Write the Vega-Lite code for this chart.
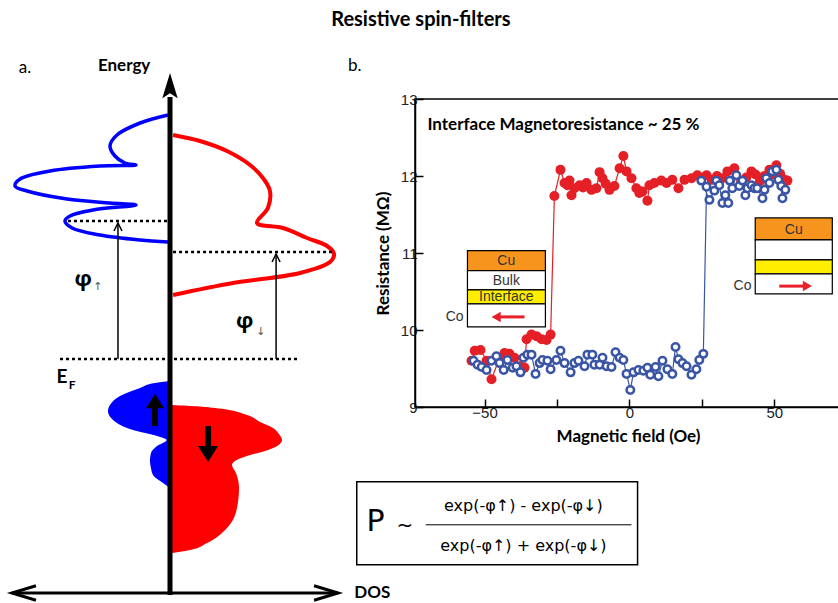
{
  "$schema": "https://vega.github.io/schema/vega-lite/v6.json",
  "padding": {"left": 0, "top": 10, "right": 0, "bottom": 0},
  "background": "white",
  "title": {"text": "Resistive spin-filters", "font": "Lato", "fontSize": 20, "fontWeight": "bold", "color": "black", "anchor": "middle", "offset": 26},
  "bounds": "flush",
  "spacing": 75,
  "config": {"view": {"stroke": null}},
  "datasets": {
    "blueCurve": [
      {"i": 0, "x": -0.012, "E": 2.44}, {"i": 1, "x": -0.176, "E": 2.36}, {"i": 2, "x": -0.312, "E": 2.24},
      {"i": 3, "x": -0.353, "E": 2.13}, {"i": 4, "x": -0.324, "E": 2.03}, {"i": 5, "x": -0.265, "E": 1.96},
      {"i": 6, "x": -0.2, "E": 1.94}, {"i": 7, "x": -0.412, "E": 1.93}, {"i": 8, "x": -0.706, "E": 1.88},
      {"i": 9, "x": -0.882, "E": 1.8}, {"i": 10, "x": -0.912, "E": 1.73}, {"i": 11, "x": -0.841, "E": 1.68},
      {"i": 12, "x": -0.606, "E": 1.6}, {"i": 13, "x": -0.353, "E": 1.56}, {"i": 14, "x": -0.2, "E": 1.54},
      {"i": 15, "x": -0.453, "E": 1.49}, {"i": 16, "x": -0.588, "E": 1.43}, {"i": 17, "x": -0.618, "E": 1.38},
      {"i": 18, "x": -0.576, "E": 1.31}, {"i": 19, "x": -0.412, "E": 1.24}, {"i": 20, "x": -0.176, "E": 1.19},
      {"i": 21, "x": -0.012, "E": 1.17}
    ],
    "redCurve": [
      {"i": 0, "x": 0.018, "E": 2.24}, {"i": 1, "x": 0.176, "E": 2.18}, {"i": 2, "x": 0.335, "E": 2.08},
      {"i": 3, "x": 0.471, "E": 1.94}, {"i": 4, "x": 0.547, "E": 1.81}, {"i": 5, "x": 0.588, "E": 1.68},
      {"i": 6, "x": 0.576, "E": 1.51}, {"i": 7, "x": 0.512, "E": 1.36}, {"i": 8, "x": 0.665, "E": 1.31},
      {"i": 9, "x": 0.806, "E": 1.21}, {"i": 10, "x": 0.924, "E": 1.13}, {"i": 11, "x": 0.965, "E": 1.05},
      {"i": 12, "x": 0.941, "E": 0.97}, {"i": 13, "x": 0.765, "E": 0.86}, {"i": 14, "x": 0.371, "E": 0.76},
      {"i": 15, "x": 0.018, "E": 0.64}
    ],
    "blueFill": [
      {"E": -0.22, "x": 0}, {"E": -0.24, "x": -0.088}, {"E": -0.29, "x": -0.176}, {"E": -0.37, "x": -0.294},
      {"E": -0.46, "x": -0.353}, {"E": -0.52, "x": -0.365}, {"E": -0.61, "x": -0.335}, {"E": -0.71, "x": -0.218},
      {"E": -0.77, "x": -0.076}, {"E": -0.81, "x": -0.02}, {"E": -0.87, "x": -0.076}, {"E": -0.94, "x": -0.112},
      {"E": -1.02, "x": -0.118}, {"E": -1.09, "x": -0.112}, {"E": -1.16, "x": -0.1}, {"E": -1.24, "x": -0.041},
      {"E": -1.29, "x": 0}
    ],
    "redFill": [
      {"E": -0.46, "x": 0.012}, {"E": -0.475, "x": 0.176}, {"E": -0.49, "x": 0.265}, {"E": -0.56, "x": 0.453},
      {"E": -0.63, "x": 0.53}, {"E": -0.69, "x": 0.606}, {"E": -0.75, "x": 0.641}, {"E": -0.81, "x": 0.659},
      {"E": -0.87, "x": 0.63}, {"E": -0.92, "x": 0.56}, {"E": -0.97, "x": 0.453}, {"E": -1.02, "x": 0.382},
      {"E": -1.06, "x": 0.365}, {"E": -1.14, "x": 0.388}, {"E": -1.29, "x": 0.406}, {"E": -1.49, "x": 0.394},
      {"E": -1.69, "x": 0.335}, {"E": -1.84, "x": 0.218}, {"E": -1.91, "x": 0.12}, {"E": -1.94, "x": 0.012}
    ],
    "axisLines": [
      {"dir": "v", "x": 0, "x2": 0, "E": -2.36, "E2": 2.62},
      {"dir": "h", "x": -0.929, "x2": 0.988, "E": -2.34, "E2": -2.34}
    ],
    "levels": [
      {"x": -0.6, "x2": -0.012, "E": 1.38, "E2": 1.38},
      {"x": 0.018, "x2": 0.959, "E": 1.07, "E2": 1.07},
      {"x": -0.647, "x2": 0.765, "E": 0, "E2": 0}
    ],
    "barriers": [
      {"x": -0.306, "x2": -0.306, "E": 0, "E2": 1.35},
      {"x": 0.624, "x2": 0.624, "E": 0, "E2": 1.05}
    ],
    "spinShafts": [
      {"x": -0.088, "x2": -0.088, "E": -0.67, "E2": -0.48},
      {"x": 0.224, "x2": 0.224, "E": -0.67, "E2": -0.87}
    ],
    "heads": [
      {"kind": "axisTop", "x": 0, "E": 2.72},
      {"kind": "axisLeft", "x": -0.859, "E": -2.34},
      {"kind": "axisRight", "x": 0.918, "E": -2.34},
      {"kind": "barrier", "x": -0.306, "E": 1.32},
      {"kind": "barrier", "x": 0.624, "E": 1.01},
      {"kind": "spinUp", "x": -0.088, "E": -0.42},
      {"kind": "spinDown", "x": 0.224, "E": -0.95}
    ],
    "leftLabels": [
      {"kind": "head", "x": -0.27, "E": 2.93, "text": "Energy"},
      {"kind": "head", "x": 1.19, "E": -2.34, "text": "DOS"},
      {"kind": "panel", "x": -0.853, "E": 2.91, "text": "a."},
      {"kind": "sym", "x": -0.635, "E": -0.18, "text": "E"},
      {"kind": "phi", "x": -0.51, "E": 0.8, "text": "φ"},
      {"kind": "phi", "x": 0.44, "E": 0.38, "text": "φ"},
      {"kind": "subF", "x": -0.575, "E": -0.26, "text": "F"},
      {"kind": "sub", "x": -0.425, "E": 0.72, "text": "↑"},
      {"kind": "sub", "x": 0.535, "E": 0.27, "text": "↓"}
    ],
    "scatter": [
      {"sweep": "down", "i": 0, "x": 54.5, "y": 11.94}, {"sweep": "down", "i": 1, "x": 53.4, "y": 11.95},
      {"sweep": "down", "i": 2, "x": 52.0, "y": 12.03}, {"sweep": "down", "i": 3, "x": 50.7, "y": 12.14},
      {"sweep": "down", "i": 4, "x": 49.4, "y": 12.02}, {"sweep": "down", "i": 5, "x": 48.3, "y": 12.08},
      {"sweep": "down", "i": 6, "x": 46.5, "y": 12.0}, {"sweep": "down", "i": 7, "x": 45.0, "y": 11.93},
      {"sweep": "down", "i": 8, "x": 43.5, "y": 12.02}, {"sweep": "down", "i": 9, "x": 42.1, "y": 12.06},
      {"sweep": "down", "i": 10, "x": 40.3, "y": 11.98}, {"sweep": "down", "i": 11, "x": 38.5, "y": 11.92},
      {"sweep": "down", "i": 12, "x": 36.2, "y": 12.1}, {"sweep": "down", "i": 13, "x": 33.8, "y": 12.06},
      {"sweep": "down", "i": 14, "x": 32.0, "y": 11.97}, {"sweep": "down", "i": 15, "x": 30.2, "y": 12.0},
      {"sweep": "down", "i": 16, "x": 28.4, "y": 11.95}, {"sweep": "down", "i": 17, "x": 26.6, "y": 12.01},
      {"sweep": "down", "i": 18, "x": 25.0, "y": 11.98}, {"sweep": "down", "i": 19, "x": 23.4, "y": 12.01},
      {"sweep": "down", "i": 20, "x": 21.4, "y": 11.97}, {"sweep": "down", "i": 21, "x": 19.0, "y": 11.95},
      {"sweep": "down", "i": 22, "x": 16.9, "y": 11.84}, {"sweep": "down", "i": 23, "x": 14.8, "y": 11.95},
      {"sweep": "down", "i": 24, "x": 12.8, "y": 11.91}, {"sweep": "down", "i": 25, "x": 11.0, "y": 11.94},
      {"sweep": "down", "i": 26, "x": 8.6, "y": 11.91}, {"sweep": "down", "i": 27, "x": 6.9, "y": 11.88},
      {"sweep": "down", "i": 28, "x": 6.2, "y": 11.68}, {"sweep": "down", "i": 29, "x": 4.5, "y": 11.8},
      {"sweep": "down", "i": 30, "x": 3.4, "y": 11.78}, {"sweep": "down", "i": 31, "x": 2.4, "y": 11.84},
      {"sweep": "down", "i": 32, "x": 0.7, "y": 11.97}, {"sweep": "down", "i": 33, "x": -1.0, "y": 12.06},
      {"sweep": "down", "i": 34, "x": -2.1, "y": 12.26}, {"sweep": "down", "i": 35, "x": -3.4, "y": 12.1},
      {"sweep": "down", "i": 36, "x": -5.2, "y": 11.87}, {"sweep": "down", "i": 37, "x": -6.9, "y": 11.82},
      {"sweep": "down", "i": 38, "x": -8.2, "y": 11.9}, {"sweep": "down", "i": 39, "x": -9.3, "y": 11.97},
      {"sweep": "down", "i": 40, "x": -10.3, "y": 12.05}, {"sweep": "down", "i": 41, "x": -11.4, "y": 11.84},
      {"sweep": "down", "i": 42, "x": -13.1, "y": 11.82}, {"sweep": "down", "i": 43, "x": -14.8, "y": 11.91},
      {"sweep": "down", "i": 44, "x": -16.0, "y": 11.85}, {"sweep": "down", "i": 45, "x": -17.2, "y": 11.88},
      {"sweep": "down", "i": 46, "x": -19.0, "y": 11.84}, {"sweep": "down", "i": 47, "x": -20.0, "y": 11.75},
      {"sweep": "down", "i": 48, "x": -20.7, "y": 11.94}, {"sweep": "down", "i": 49, "x": -21.4, "y": 11.88},
      {"sweep": "down", "i": 50, "x": -22.4, "y": 11.91}, {"sweep": "down", "i": 51, "x": -23.8, "y": 12.08},
      {"sweep": "down", "i": 52, "x": -25.9, "y": 11.74}, {"sweep": "down", "i": 53, "x": -27.2, "y": 9.94},
      {"sweep": "down", "i": 54, "x": -28.6, "y": 9.87}, {"sweep": "down", "i": 55, "x": -30.3, "y": 9.88},
      {"sweep": "down", "i": 56, "x": -32.1, "y": 9.92}, {"sweep": "down", "i": 57, "x": -33.8, "y": 9.94},
      {"sweep": "down", "i": 58, "x": -35.5, "y": 9.88}, {"sweep": "down", "i": 59, "x": -36.2, "y": 9.51},
      {"sweep": "down", "i": 60, "x": -37.9, "y": 9.53}, {"sweep": "down", "i": 61, "x": -39.7, "y": 9.64},
      {"sweep": "down", "i": 62, "x": -41.4, "y": 9.69}, {"sweep": "down", "i": 63, "x": -43.1, "y": 9.7},
      {"sweep": "down", "i": 64, "x": -45.0, "y": 9.62}, {"sweep": "down", "i": 65, "x": -47.6, "y": 9.36},
      {"sweep": "down", "i": 66, "x": -49.3, "y": 9.6}, {"sweep": "down", "i": 67, "x": -51.4, "y": 9.74},
      {"sweep": "down", "i": 68, "x": -53.4, "y": 9.73}, {"sweep": "down", "i": 69, "x": -54.5, "y": 9.6},
      {"sweep": "up", "i": 0, "x": -53.8, "y": 9.6}, {"sweep": "up", "i": 1, "x": -52.4, "y": 9.55},
      {"sweep": "up", "i": 2, "x": -51.0, "y": 9.52}, {"sweep": "up", "i": 3, "x": -49.3, "y": 9.48},
      {"sweep": "up", "i": 4, "x": -47.6, "y": 9.6}, {"sweep": "up", "i": 5, "x": -45.9, "y": 9.66},
      {"sweep": "up", "i": 6, "x": -44.8, "y": 9.57}, {"sweep": "up", "i": 7, "x": -43.4, "y": 9.48},
      {"sweep": "up", "i": 8, "x": -42.1, "y": 9.61}, {"sweep": "up", "i": 9, "x": -40.3, "y": 9.51},
      {"sweep": "up", "i": 10, "x": -39.0, "y": 9.53}, {"sweep": "up", "i": 11, "x": -37.6, "y": 9.45},
      {"sweep": "up", "i": 12, "x": -36.6, "y": 9.64}, {"sweep": "up", "i": 13, "x": -35.2, "y": 9.68},
      {"sweep": "up", "i": 14, "x": -33.8, "y": 9.68}, {"sweep": "up", "i": 15, "x": -32.4, "y": 9.43},
      {"sweep": "up", "i": 16, "x": -31.0, "y": 9.57}, {"sweep": "up", "i": 17, "x": -30.0, "y": 9.61},
      {"sweep": "up", "i": 18, "x": -28.3, "y": 9.6}, {"sweep": "up", "i": 19, "x": -27.2, "y": 9.49},
      {"sweep": "up", "i": 20, "x": -25.2, "y": 9.61}, {"sweep": "up", "i": 21, "x": -23.8, "y": 9.73},
      {"sweep": "up", "i": 22, "x": -22.4, "y": 9.57}, {"sweep": "up", "i": 23, "x": -20.3, "y": 9.45},
      {"sweep": "up", "i": 24, "x": -19.0, "y": 9.57}, {"sweep": "up", "i": 25, "x": -17.6, "y": 9.6},
      {"sweep": "up", "i": 26, "x": -15.5, "y": 9.53}, {"sweep": "up", "i": 27, "x": -14.5, "y": 9.68},
      {"sweep": "up", "i": 28, "x": -12.8, "y": 9.68}, {"sweep": "up", "i": 29, "x": -12.1, "y": 9.55},
      {"sweep": "up", "i": 30, "x": -10.3, "y": 9.55}, {"sweep": "up", "i": 31, "x": -9.3, "y": 9.64},
      {"sweep": "up", "i": 32, "x": -7.9, "y": 9.53}, {"sweep": "up", "i": 33, "x": -6.2, "y": 9.52},
      {"sweep": "up", "i": 34, "x": -4.8, "y": 9.71}, {"sweep": "up", "i": 35, "x": -3.4, "y": 9.64},
      {"sweep": "up", "i": 36, "x": -2.1, "y": 9.61}, {"sweep": "up", "i": 37, "x": -1.0, "y": 9.43},
      {"sweep": "up", "i": 38, "x": 0.3, "y": 9.22}, {"sweep": "up", "i": 39, "x": 1.4, "y": 9.45},
      {"sweep": "up", "i": 40, "x": 3.1, "y": 9.48}, {"sweep": "up", "i": 41, "x": 4.8, "y": 9.47},
      {"sweep": "up", "i": 42, "x": 6.2, "y": 9.51}, {"sweep": "up", "i": 43, "x": 7.2, "y": 9.42},
      {"sweep": "up", "i": 44, "x": 9.0, "y": 9.52}, {"sweep": "up", "i": 45, "x": 10.0, "y": 9.4},
      {"sweep": "up", "i": 46, "x": 11.4, "y": 9.6}, {"sweep": "up", "i": 47, "x": 13.1, "y": 9.49},
      {"sweep": "up", "i": 48, "x": 14.8, "y": 9.43}, {"sweep": "up", "i": 49, "x": 15.9, "y": 9.78},
      {"sweep": "up", "i": 50, "x": 16.9, "y": 9.62}, {"sweep": "up", "i": 51, "x": 18.3, "y": 9.57},
      {"sweep": "up", "i": 52, "x": 19.7, "y": 9.53}, {"sweep": "up", "i": 53, "x": 21.4, "y": 9.42},
      {"sweep": "up", "i": 54, "x": 23.1, "y": 9.49}, {"sweep": "up", "i": 55, "x": 24.1, "y": 9.61},
      {"sweep": "up", "i": 56, "x": 25.5, "y": 9.69}, {"sweep": "up", "i": 57, "x": 26.6, "y": 11.86},
      {"sweep": "up", "i": 58, "x": 24.8, "y": 11.94}, {"sweep": "up", "i": 59, "x": 27.6, "y": 11.69},
      {"sweep": "up", "i": 60, "x": 29.3, "y": 11.81}, {"sweep": "up", "i": 61, "x": 30.0, "y": 11.94},
      {"sweep": "up", "i": 62, "x": 31.0, "y": 11.88}, {"sweep": "up", "i": 63, "x": 32.1, "y": 11.65},
      {"sweep": "up", "i": 64, "x": 33.1, "y": 11.75}, {"sweep": "up", "i": 65, "x": 34.1, "y": 11.65},
      {"sweep": "up", "i": 66, "x": 34.6, "y": 11.94}, {"sweep": "up", "i": 67, "x": 35.5, "y": 11.84},
      {"sweep": "up", "i": 68, "x": 36.9, "y": 12.01}, {"sweep": "up", "i": 69, "x": 37.9, "y": 11.87},
      {"sweep": "up", "i": 70, "x": 39.0, "y": 11.94}, {"sweep": "up", "i": 71, "x": 40.0, "y": 11.75},
      {"sweep": "up", "i": 72, "x": 40.7, "y": 11.84}, {"sweep": "up", "i": 73, "x": 42.1, "y": 11.88},
      {"sweep": "up", "i": 74, "x": 43.1, "y": 11.84}, {"sweep": "up", "i": 75, "x": 44.1, "y": 11.84},
      {"sweep": "up", "i": 76, "x": 45.9, "y": 11.71}, {"sweep": "up", "i": 77, "x": 46.6, "y": 11.82},
      {"sweep": "up", "i": 78, "x": 47.2, "y": 11.97}, {"sweep": "up", "i": 79, "x": 48.3, "y": 11.91},
      {"sweep": "up", "i": 80, "x": 49.3, "y": 12.06}, {"sweep": "up", "i": 81, "x": 50.7, "y": 12.08},
      {"sweep": "up", "i": 82, "x": 51.4, "y": 11.95}, {"sweep": "up", "i": 83, "x": 52.4, "y": 11.87},
      {"sweep": "up", "i": 84, "x": 52.8, "y": 11.71}, {"sweep": "up", "i": 85, "x": 53.8, "y": 11.82}
    ],
    "insets": [
      {"layer": "Cu", "x": -55.9, "x2": -29.0, "y": 11.03, "y2": 10.77},
      {"layer": "Bulk", "x": -55.9, "x2": -29.0, "y": 10.77, "y2": 10.52},
      {"layer": "Interface", "x": -55.9, "x2": -29.0, "y": 10.52, "y2": 10.34},
      {"layer": "Co", "x": -55.9, "x2": -29.0, "y": 10.34, "y2": 10.04},
      {"layer": "Cu", "x": 43.4, "x2": 70.0, "y": 11.455, "y2": 11.17},
      {"layer": "Bulk", "x": 43.4, "x2": 70.0, "y": 11.17, "y2": 10.91},
      {"layer": "Interface", "x": 43.4, "x2": 70.0, "y": 10.91, "y2": 10.73},
      {"layer": "Co", "x": 43.4, "x2": 70.0, "y": 10.73, "y2": 10.47}
    ],
    "insetText": [
      {"x": -42.5, "y": 10.9, "text": "Cu"},
      {"x": -42.5, "y": 10.64, "text": "Bulk"},
      {"x": -42.5, "y": 10.43, "text": "Interface"},
      {"x": -60.3, "y": 10.17, "text": "Co"},
      {"x": 56.7, "y": 11.3, "text": "Cu"},
      {"x": 39.0, "y": 10.57, "text": "Co"}
    ],
    "insetArrows": [
      {"x": -45.5, "x2": -36.2, "y": 10.17},
      {"x": 51.7, "x2": 61.0, "y": 10.57}
    ],
    "insetHeads": [
      {"dir": "left", "x": -46.0, "y": 10.17},
      {"dir": "right", "x": 61.4, "y": 10.57}
    ],
    "notes": [
      {"kind": "annot", "x": -69.7, "y": 12.66, "text": "Interface Magnetoresistance ~ 25 %"},
      {"kind": "panel", "x": -94.8, "y": 13.43, "text": "b."}
    ],
    "formulaBox": [{"x": -94.1, "x2": 2.8, "y": 8.03, "y2": 6.95}],
    "formulaLine": [{"x": -70.3, "x2": 0.7, "y": 7.47}],
    "formulaText": [
      {"kind": "P", "x": -87.6, "y": 7.51, "text": "P"},
      {"kind": "tilde", "x": -77.5, "y": 7.45, "text": "~"},
      {"kind": "frac", "x": -36.6, "y": 7.71, "text": "exp(-φ↑) - exp(-φ↓)"},
      {"kind": "frac", "x": -36.6, "y": 7.19, "text": "exp(-φ↑) + exp(-φ↓)"}
    ]
  },
  "hconcat": [
    {
      "width": 340,
      "height": 502,
      "view": {"stroke": null},
      "encoding": {
        "x": {"field": "x", "type": "quantitative", "scale": {"domain": [-1, 1], "nice": false, "zero": false}, "axis": null},
        "y": {"field": "E", "type": "quantitative", "scale": {"domain": [-2.42, 2.6], "nice": false, "zero": false}, "axis": null}
      },
      "layer": [
        {"data": {"name": "blueFill"}, "mark": {"type": "area", "orient": "horizontal", "color": "#0000ff", "interpolate": "monotone"}, "encoding": {"x2": {"datum": 0}}},
        {"data": {"name": "redFill"}, "mark": {"type": "area", "orient": "horizontal", "color": "#ff0000", "interpolate": "monotone"}, "encoding": {"x2": {"datum": 0}}},
        {"data": {"name": "blueCurve"}, "mark": {"type": "line", "color": "#0000ff", "strokeWidth": 3.5, "interpolate": "catmull-rom"}, "encoding": {"order": {"field": "i", "type": "quantitative"}}},
        {"data": {"name": "redCurve"}, "mark": {"type": "line", "color": "#ff0000", "strokeWidth": 4, "interpolate": "catmull-rom"}, "encoding": {"order": {"field": "i", "type": "quantitative"}}},
        {"data": {"name": "axisLines"}, "transform": [{"filter": "datum.dir === 'v'"}], "mark": {"type": "rule", "color": "black", "strokeWidth": 5}, "encoding": {"x2": {"field": "x2"}, "y2": {"field": "E2"}}},
        {"data": {"name": "axisLines"}, "transform": [{"filter": "datum.dir === 'h'"}], "mark": {"type": "rule", "color": "black", "strokeWidth": 3}, "encoding": {"x2": {"field": "x2"}, "y2": {"field": "E2"}}},
        {"data": {"name": "levels"}, "mark": {"type": "rule", "color": "black", "strokeWidth": 2.5, "strokeDash": [3, 3]}, "encoding": {"x2": {"field": "x2"}, "y2": {"field": "E2"}}},
        {"data": {"name": "barriers"}, "mark": {"type": "rule", "color": "black", "strokeWidth": 1.5}, "encoding": {"x2": {"field": "x2"}, "y2": {"field": "E2"}}},
        {"data": {"name": "spinShafts"}, "mark": {"type": "rule", "color": "black", "strokeWidth": 6}, "encoding": {"x2": {"field": "x2"}, "y2": {"field": "E2"}}},
        {"data": {"name": "heads"}, "transform": [{"filter": "datum.kind === 'axisTop'"}], "mark": {"type": "point", "shape": "M0,-1L0.55,0.8L0,0.45L-0.55,0.8Z", "size": 784, "filled": true, "color": "black", "opacity": 1}},
        {"data": {"name": "heads"}, "transform": [{"filter": "datum.kind === 'axisLeft'"}], "mark": {"type": "point", "shape": "M1,-0.6L-1,0L1,0.6", "size": 576, "filled": false, "color": "black", "strokeWidth": 3, "opacity": 1}},
        {"data": {"name": "heads"}, "transform": [{"filter": "datum.kind === 'axisRight'"}], "mark": {"type": "point", "shape": "M-1,-0.6L1,0L-1,0.6", "size": 576, "filled": false, "color": "black", "strokeWidth": 3, "opacity": 1}},
        {"data": {"name": "heads"}, "transform": [{"filter": "datum.kind === 'barrier'"}], "mark": {"type": "point", "shape": "M-1,1L0,-1L1,1", "size": 64, "filled": false, "color": "black", "strokeWidth": 1.5, "opacity": 1}},
        {"data": {"name": "heads"}, "transform": [{"filter": "datum.kind === 'spinUp'"}], "mark": {"type": "point", "shape": "M0,-0.8L1,0.8L-1,0.8Z", "size": 324, "filled": true, "color": "black", "opacity": 1}},
        {"data": {"name": "heads"}, "transform": [{"filter": "datum.kind === 'spinDown'"}], "mark": {"type": "point", "shape": "M0,0.8L1,-0.8L-1,-0.8Z", "size": 400, "filled": true, "color": "black", "opacity": 1}},
        {"data": {"name": "leftLabels"}, "transform": [{"filter": "datum.kind === 'head'"}], "mark": {"type": "text", "font": "Lato", "fontSize": 17, "fontWeight": "bold", "color": "black", "align": "center", "baseline": "middle"}, "encoding": {"text": {"field": "text"}}},
        {"data": {"name": "leftLabels"}, "transform": [{"filter": "datum.kind === 'panel'"}], "mark": {"type": "text", "font": "Lato", "fontSize": 17, "color": "black", "align": "center", "baseline": "middle"}, "encoding": {"text": {"field": "text"}}},
        {"data": {"name": "leftLabels"}, "transform": [{"filter": "datum.kind === 'sym'"}], "mark": {"type": "text", "font": "Lato", "fontSize": 19, "fontWeight": "bold", "color": "black", "align": "center", "baseline": "middle"}, "encoding": {"text": {"field": "text"}}},
        {"data": {"name": "leftLabels"}, "transform": [{"filter": "datum.kind === 'phi'"}], "mark": {"type": "text", "font": "Open Sans", "fontSize": 22, "fontWeight": "bold", "color": "black", "align": "center", "baseline": "middle"}, "encoding": {"text": {"field": "text"}}},
        {"data": {"name": "leftLabels"}, "transform": [{"filter": "datum.kind === 'subF'"}], "mark": {"type": "text", "font": "Lato", "fontSize": 12, "fontWeight": "bold", "color": "black", "align": "center", "baseline": "middle"}, "encoding": {"text": {"field": "text"}}},
        {"data": {"name": "leftLabels"}, "transform": [{"filter": "datum.kind === 'sub'"}], "mark": {"type": "text", "font": "DejaVu Sans", "fontSize": 11, "color": "#555", "align": "center", "baseline": "middle"}, "encoding": {"text": {"field": "text"}}}
      ]
    },
    {
      "width": 426,
      "height": 308,
      "view": {"stroke": "black", "strokeWidth": 1.5},
      "encoding": {
        "x": {"field": "x", "type": "quantitative", "scale": {"domain": [-74, 73], "nice": false, "zero": false},
          "axis": {"title": "Magnetic field (Oe)", "values": [-50, -25, 0, 25, 50], "format": "d", "labelExpr": "datum.value % 50 === 0 ? datum.label : ''", "grid": false, "tickSize": -8, "tickColor": "black", "tickWidth": 1.5, "domainColor": "black", "domainWidth": 1.5, "labelFont": "Liberation Sans", "labelFontSize": 15, "labelColor": "#222", "labelPadding": 6, "titleFont": "Lato", "titleFontSize": 17, "titleFontWeight": "bold", "titleColor": "black", "titlePadding": 8}},
        "y": {"field": "y", "type": "quantitative", "scale": {"domain": [9, 13], "nice": false, "zero": false},
          "axis": {"title": "Resistance (MΩ)", "values": [9, 9.5, 10, 10.5, 11, 11.5, 12, 12.5, 13], "format": "d", "labelExpr": "datum.value % 1 === 0 ? datum.label : ''", "grid": false, "tickSize": -8, "tickColor": "black", "tickWidth": 1.5, "domainColor": "black", "domainWidth": 1.5, "labelFont": "Liberation Sans", "labelFontSize": 15, "labelColor": "#222", "labelPadding": 6, "titleFont": "Lato", "titleFontSize": 17, "titleFontWeight": "bold", "titleColor": "black", "titlePadding": 8}}
      },
      "layer": [
        {"data": {"name": "insets"}, "mark": {"type": "rect", "stroke": "black", "strokeWidth": 1.2}, "encoding": {"x2": {"field": "x2"}, "y2": {"field": "y2"}, "fill": {"field": "layer", "type": "nominal", "scale": {"domain": ["Cu", "Bulk", "Interface", "Co"], "range": ["#f7941d", "#ffffff", "#ffee00", "#ffffff"]}, "legend": null}}},
        {"data": {"name": "insetText"}, "mark": {"type": "text", "font": "Liberation Sans", "fontSize": 14, "color": "#333", "align": "center", "baseline": "middle"}, "encoding": {"text": {"field": "text"}}},
        {"data": {"name": "insetArrows"}, "mark": {"type": "rule", "color": "#e8202a", "strokeWidth": 3}, "encoding": {"x2": {"field": "x2"}}},
        {"data": {"name": "insetHeads"}, "transform": [{"filter": "datum.dir === 'left'"}], "mark": {"type": "point", "shape": "triangle-left", "size": 110, "filled": true, "color": "#e8202a", "opacity": 1}},
        {"data": {"name": "insetHeads"}, "transform": [{"filter": "datum.dir === 'right'"}], "mark": {"type": "point", "shape": "triangle-right", "size": 110, "filled": true, "color": "#e8202a", "opacity": 1}},
        {"data": {"name": "scatter"}, "mark": {"type": "line", "strokeWidth": 1.2}, "encoding": {"color": {"field": "sweep", "type": "nominal", "scale": {"domain": ["down", "up"], "range": ["#e41f26", "#3a55a5"]}, "legend": null}, "order": {"field": "i", "type": "quantitative"}}},
        {"data": {"name": "scatter"}, "transform": [{"filter": "datum.sweep === 'down'"}], "mark": {"type": "point", "shape": "circle", "filled": true, "color": "#e41f26", "size": 100, "opacity": 1}},
        {"data": {"name": "scatter"}, "transform": [{"filter": "datum.sweep === 'up'"}], "mark": {"type": "point", "shape": "circle", "fill": "white", "stroke": "#3a55a5", "strokeWidth": 2.5, "size": 56, "opacity": 1, "fillOpacity": 1}},
        {"data": {"name": "notes"}, "transform": [{"filter": "datum.kind === 'annot'"}], "mark": {"type": "text", "font": "Lato", "fontSize": 17, "fontWeight": "bold", "color": "black", "align": "left", "baseline": "middle"}, "encoding": {"text": {"field": "text"}}},
        {"data": {"name": "notes"}, "transform": [{"filter": "datum.kind === 'panel'"}], "mark": {"type": "text", "font": "Lato", "fontSize": 17, "color": "black", "align": "center", "baseline": "middle"}, "encoding": {"text": {"field": "text"}}},
        {"data": {"name": "formulaBox"}, "mark": {"type": "rect", "fill": "white", "stroke": "black", "strokeWidth": 1.5}, "encoding": {"x2": {"field": "x2"}, "y2": {"field": "y2"}}},
        {"data": {"name": "formulaLine"}, "mark": {"type": "rule", "color": "black", "strokeWidth": 1}, "encoding": {"x2": {"field": "x2"}}},
        {"data": {"name": "formulaText"}, "transform": [{"filter": "datum.kind === 'P'"}], "mark": {"type": "text", "font": "DejaVu Sans", "fontSize": 30, "color": "black", "align": "center", "baseline": "middle"}, "encoding": {"text": {"field": "text"}}},
        {"data": {"name": "formulaText"}, "transform": [{"filter": "datum.kind === 'tilde'"}], "mark": {"type": "text", "font": "DejaVu Sans", "fontSize": 20, "color": "black", "align": "center", "baseline": "middle"}, "encoding": {"text": {"field": "text"}}},
        {"data": {"name": "formulaText"}, "transform": [{"filter": "datum.kind === 'frac'"}], "mark": {"type": "text", "font": "DejaVu Sans", "fontSize": 16, "color": "black", "align": "center", "baseline": "middle"}, "encoding": {"text": {"field": "text"}}}
      ]
    }
  ]
}
